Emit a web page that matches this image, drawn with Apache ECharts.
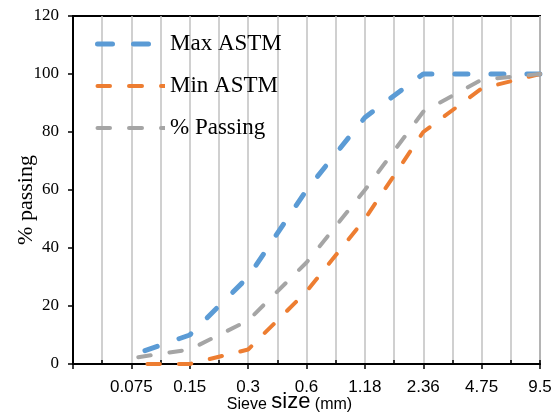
<!DOCTYPE html>
<html>
<head>
<meta charset="utf-8">
<script src="https://cdn.jsdelivr.net/npm/echarts@6/dist/echarts.min.js"></script>
<style>
html,body{margin:0;padding:0;background:#fff;}
#chart{width:558px;height:418px;}
</style>
</head>
<body>
<div id="chart"></div>
<script>
// Sieve sizes (category labels, placed at positions 1..8)
const sieveLabels = ['0.075', '0.15', '0.3', '0.6', '1.18', '2.36', '4.75', '9.5'];
// % passing values
const maxAstm = [3, 10, 30, 60, 85, 100, 100, 100];
const minAstm = [0, 0, 5, 25, 50, 80, 95, 100];
const passing = [2, 5, 15, 35, 60, 87, 98, 100];
const yTicks = [0, 20, 40, 60, 80, 100, 120];

const toPairs = arr => arr.map((v, i) => [i + 1, v]);

// legend icon: rounded dashes inside a 70x5 box
function dashIcon(segs, r) {
  let d = 'M0,0 M70,5 ';
  const c = 2.5;
  segs.forEach(([a, b, roundEnd]) => {
    const endR = roundEnd === false ? 0 : r;
    d += `M${a + r},${c - r} L${b - endR},${c - r} `;
    if (endR) d += `A${r},${r} 0 0 1 ${b - r},${c + r} `; else d += `L${b},${c + r} `;
    d += `L${a + r},${c + r} A${r},${r} 0 0 1 ${a + r},${c - r} Z `;
  });
  return 'path://' + d;
}

const chart = echarts.init(document.getElementById('chart'), null, {renderer: 'canvas'});
const gridColor = '#C0C0C0';

chart.setOption({
  animation: false,
  backgroundColor: '#fff',
  grid: {left: 73, right: 18, top: 16, bottom: 54, show: true, borderColor: '#000', borderWidth: 2,
         containLabel: false, outerBoundsMode: 'none'},
  legend: {
    orient: 'vertical', left: 90, top: 27, itemWidth: 70, itemHeight: 5, itemGap: 18,
    textStyle: {fontFamily: 'Liberation Serif', fontSize: 23, color: '#000', lineHeight: 24},
    itemStyle: {borderWidth: 0},
    data: [
      {name: 'Max ASTM', icon: dashIcon([[0, 20], [36, 56]], 2.5)},
      {name: 'Min ASTM', icon: dashIcon([[0.5, 17], [32, 49], [64, 70, false]], 2)},
      {name: '% Passing', icon: dashIcon([[0.5, 17], [32, 49], [64, 70, false]], 2)}
    ]
  },
  xAxis: [
    {
      type: 'value', min: 0, max: 8, interval: 1, position: 'bottom', gridIndex: 0,
      axisLine: {show: true, onZero: false, lineStyle: {color: '#000', width: 2}},
      axisTick: {show: true, inside: false, length: 5, lineStyle: {color: '#000', width: 1.5}},
      axisLabel: {
        margin: 15, fontFamily: 'Liberation Sans', fontSize: 17, color: '#000',
        formatter: v => (v >= 1 && v <= sieveLabels.length) ? sieveLabels[Math.round(v) - 1] : ''
      },
      splitLine: {show: true, lineStyle: {color: gridColor, width: 1.5}},
      name: '{a|Sieve }{b|size}{c| (mm)}',
      nameLocation: 'middle', nameGap: 27, nameMoveOverlap: false,
      nameTextStyle: {
        padding: [0, 34, 0, 0],
        rich: {
          a: {fontFamily: 'Liberation Sans', fontSize: 16, color: '#000', lineHeight: 16, verticalAlign: 'bottom'},
          b: {fontFamily: 'Liberation Sans', fontSize: 22, color: '#000', lineHeight: 22, verticalAlign: 'bottom'},
          c: {fontFamily: 'Liberation Sans', fontSize: 16, color: '#000', lineHeight: 16, verticalAlign: 'bottom'}
        }
      }
    },
    {
      type: 'value', min: -0.5, max: 7.5, splitNumber: 8, position: 'bottom', gridIndex: 0,
      axisLine: {show: false, onZero: false},
      axisTick: {show: true, inside: true, length: 4, lineStyle: {color: '#000', width: 1.5}},
      axisLabel: {show: false},
      splitLine: {show: true, lineStyle: {color: gridColor, width: 1.5}}
    }
  ],
  yAxis: {
    type: 'value', min: yTicks[0], max: yTicks[yTicks.length - 1], interval: 20,
    axisLine: {show: true, lineStyle: {color: '#000', width: 2}},
    axisTick: {show: true, inside: false, length: 5, lineStyle: {color: '#000', width: 1.5}},
    axisLabel: {margin: 14, fontFamily: 'Liberation Serif', fontSize: 17, color: '#000'},
    splitLine: {show: false},
    name: '% passing', nameLocation: 'middle', nameGap: 36, nameMoveOverlap: false,
    nameTextStyle: {fontFamily: 'Liberation Serif', fontSize: 22, color: '#000', padding: [0, 20, 0, 0]}
  },
  series: [
    {
      name: 'Max ASTM', type: 'line', xAxisIndex: 0, data: toPairs(maxAstm),
      symbol: 'none', showSymbol: false, color: '#5B9BD5',
      lineStyle: {color: '#5B9BD5', width: 5, type: [13, 23], dashOffset: 21.6, cap: 'round', join: 'round'}
    },
    {
      name: 'Min ASTM', type: 'line', xAxisIndex: 0, data: toPairs(minAstm),
      symbol: 'none', showSymbol: false, color: '#ED7D31',
      lineStyle: {color: '#ED7D31', width: 4, type: [12.5, 19], dashOffset: 15.5, cap: 'round', join: 'round'}
    },
    {
      name: '% Passing', type: 'line', xAxisIndex: 0, data: toPairs(passing),
      symbol: 'none', showSymbol: false, color: '#A5A5A5',
      lineStyle: {color: '#A5A5A5', width: 4, type: [12.5, 19], dashOffset: 24.5, cap: 'round', join: 'round'}
    }
  ]
});
</script>
</body>
</html>
